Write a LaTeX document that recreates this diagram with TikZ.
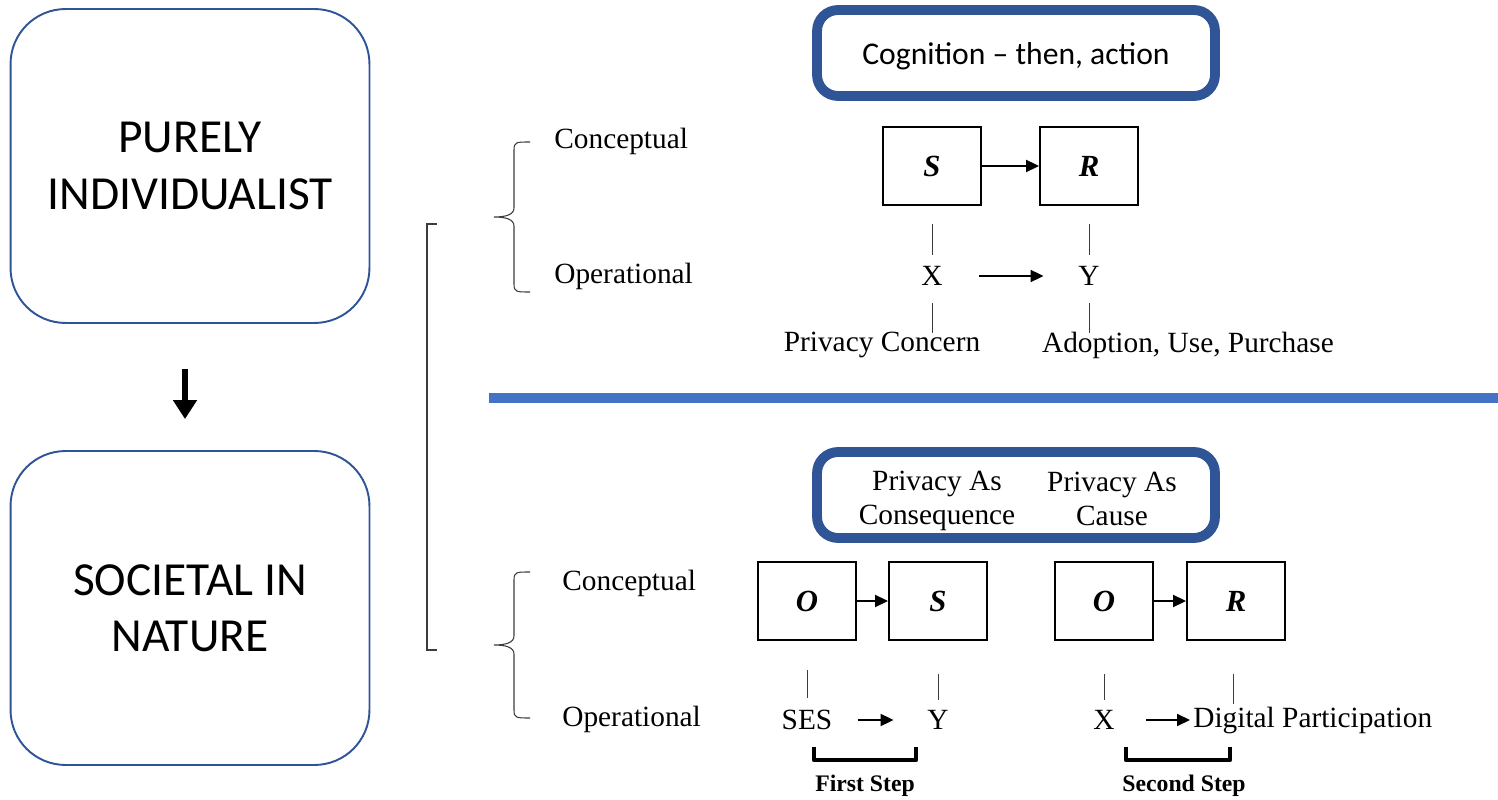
\documentclass[tikz,border=0pt]{standalone}
\usepackage{fontspec}
\setmainfont{Liberation Serif}
\newfontfamily\calibri{Carlito}
\usepackage{tikz}
\usetikzlibrary{arrows.meta, positioning, calc}
\definecolor{frame}{RGB}{47,85,151}
\definecolor{rule}{RGB}{68,114,196}
\definecolor{ink}{RGB}{60,60,60}

\begin{document}
\begin{tikzpicture}[x=0.02cm, y=-0.02cm, inner sep=0pt,
  font=\fontsize{16.7}{19.3}\selectfont,
  stage/.style={draw=frame, line width=1.1pt, rounded corners=1.1cm,
                minimum width=7.18cm, minimum height=6.28cm, align=center,
                font=\calibri\fontsize{27}{32}\selectfont},
  banner/.style={draw=frame, line width=5.6pt, rounded corners=0.42cm,
                 minimum width=7.96cm, minimum height=1.72cm, align=center},
  var/.style={draw, line width=1.1pt, minimum width=1.96cm, minimum height=1.56cm,
              font=\bfseries\itshape\fontsize{17.5}{20}\selectfont},
  cause/.style={-{Triangle[length=2.6mm, width=2.4mm]}, line width=1.1pt},
  bigarrow/.style={-{Triangle[length=3.8mm, width=4.6mm]}, line width=3pt},
  link/.style={ink, line width=0.5pt},
  curly/.style={ink, line width=0.6pt},
  stepmark/.style={line width=2.6pt, line join=round},
  steptext/.style={font=\bfseries\fontsize{13.5}{16}\selectfont}]
  \useasboundingbox (0,0) rectangle (1498,800);

  % left column
  \node[stage] (indiv) at (190,166) {PURELY\\INDIVIDUALIST};
  \node[stage] (soc) at (190,608) {SOCIETAL IN\\NATURE};
  \draw[bigarrow, shorten <=0.9cm, shorten >=0.62cm] ([xshift=-0.1cm]indiv.south) -- ([xshift=-0.1cm]soc.north);

  % brackets
  \draw[link, line width=0.7pt] (437,224) -| (427,650) -- (437,650);
  \foreach \top/\tip/\bot in {142/217/292, 572/645/718} {
    \draw[curly] (530,\top) .. controls (516,\top) and (514,\top) .. (514,\top+8)
      -- (514,\tip-9) .. controls (514,\tip-2) and (505,\tip) .. (494,\tip)
      .. controls (505,\tip) and (514,\tip+2) .. (514,\tip+9)
      -- (514,\bot-8) .. controls (514,\bot) and (516,\bot) .. (530,\bot);
  }

  % separator
  \draw[rule, line width=5.7pt] (489,398) -- (1498,398);

  % upper half
  \node[banner] (cog) at (1016,53) {};
  \node[font=\calibri\fontsize{18}{22}\selectfont] (cogtext) at (1016,56) {Cognition – then, action};
  \node[anchor=west] (concept1) at (554,141) {Conceptual};
  \node[anchor=west] (oper1) at (554,276) {Operational};
  \node[var] (s1) at (932,166) {S};
  \node[var] (r1) at (1089,166) {R};
  \draw[cause] (s1) -- (r1);
  \node (x1) at (932,276) {X};
  \node (y1) at (1089,276) {Y};
  \draw[cause, shorten <=0.73cm, shorten >=0.69cm] (x1) -- (y1);
  \draw[link, shorten <=0.36cm, shorten >=0.22cm] (s1) -- (x1);
  \draw[link, shorten <=0.36cm, shorten >=0.22cm] (r1) -- (y1);
  \node (pc) at (882,345) {Privacy Concern};
  \node (adopt) at (1188,345) {Adoption, Use, Purchase};
  \draw[link] (x1.south) ++(0,17) -- ++(0,30);
  \draw[link] (y1.south) ++(0,17) -- ++(0,30);

  % lower half
  \node[banner] (priv) at (1016,495) {};
  \node[align=center] (conseq) at (937,501) {Privacy As\\Consequence};
  \node[align=center] (causal) at (1112,499) {Privacy As\\Cause};
  \node[anchor=west] (concept2) at (562,583) {Conceptual};
  \node[anchor=west] (oper2) at (562,719) {Operational};
  \node[var] (o2) at (807,601) {O};
  \node[var] (s2) at (938,601) {S};
  \node[var] (o3) at (1104,601) {O};
  \node[var] (r2) at (1236,601) {R};
  \draw[cause] (o2) -- (s2);
  \draw[cause] (o3) -- (r2);
  \node (ses) at (807,720) {SES};
  \node (y2) at (938,720) {Y};
  \node (x2) at (1104,720) {X};
  \node[anchor=west] (digital) at (1193,720) {Digital Participation};
  \draw[cause, shorten <=0.5cm, shorten >=0.67cm] (ses) -- (y2);
  \draw[cause, shorten <=0.63cm, shorten >=0.06cm] (x2) -- (digital);
  \draw[link, shorten <=0.58cm, shorten >=0.24cm] (o2) -- (ses);
  \draw[link, shorten <=0.66cm, shorten >=0.2cm] (s2) -- (y2);
  \draw[link, shorten <=0.66cm, shorten >=0.2cm] (o3) -- (x2);
  \draw[link] (r2.south) ++(-3,33) -- ++(0,30);

  % steps
  \draw[stepmark] (814,747) |- (916,760) -- (916,747);
  \draw[stepmark] (1126,747) |- (1230,760) -- (1230,747);
  \node[steptext] (first) at (865,786) {First Step};
  \node[steptext] (second) at (1184,786) {Second Step};
\end{tikzpicture}
\end{document}
